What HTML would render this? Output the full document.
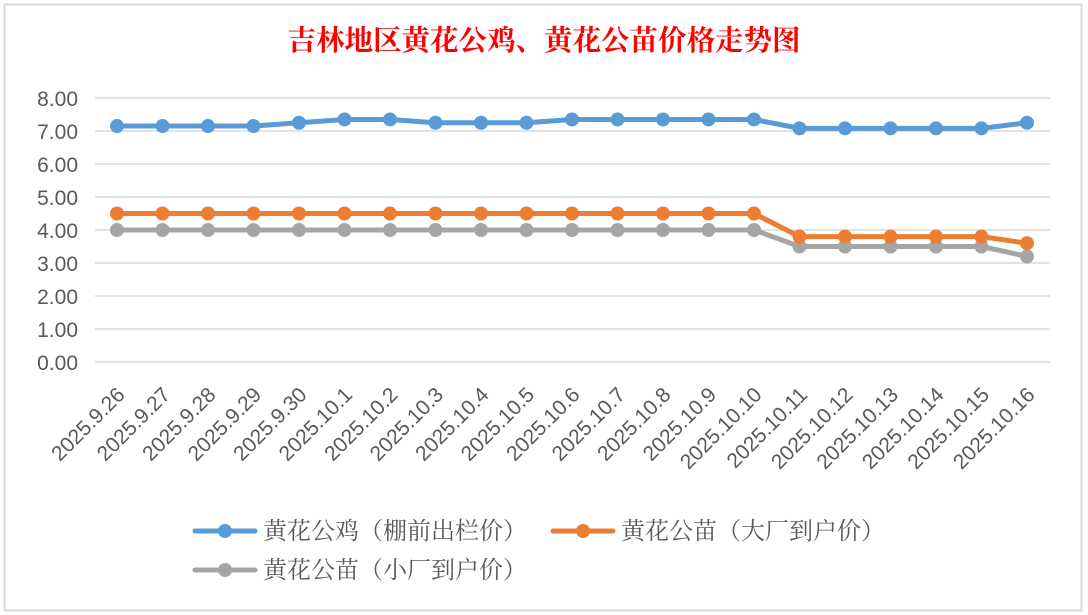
<!DOCTYPE html>
<html><head><meta charset="utf-8"><style>
html,body{margin:0;padding:0;background:#fff;}
svg{display:block;}
</style></head><body>
<svg width="1088" height="615" xmlns="http://www.w3.org/2000/svg">
<rect width="1088" height="615" fill="#fff"/>
<rect x="4.5" y="4.5" width="1077" height="606" fill="#fff" stroke="#d9d9d9" stroke-width="2"/>
<text x="544" y="50" text-anchor="middle" font-family="'Liberation Serif','Noto Serif CJK SC',serif" font-size="28.5" font-weight="bold" fill="#ff0000">吉林地区黄花公鸡、黄花公苗价格走势图</text>
<g stroke="#d9d9d9" stroke-width="1.5">
<line x1="95" x2="1050" y1="98" y2="98"/><line x1="95" x2="1050" y1="131" y2="131"/>
<line x1="95" x2="1050" y1="164" y2="164"/><line x1="95" x2="1050" y1="197" y2="197"/>
<line x1="95" x2="1050" y1="230" y2="230"/><line x1="95" x2="1050" y1="263" y2="263"/>
<line x1="95" x2="1050" y1="296" y2="296"/><line x1="95" x2="1050" y1="329" y2="329"/>
<line x1="95" x2="1050" y1="362" y2="362"/>
</g>
<g font-family="'Liberation Sans',sans-serif" font-size="21" fill="#595959" text-anchor="end">
<text x="78" y="106">8.00</text><text x="78" y="139">7.00</text><text x="78" y="172">6.00</text>
<text x="78" y="205">5.00</text><text x="78" y="238">4.00</text><text x="78" y="271">3.00</text>
<text x="78" y="304">2.00</text><text x="78" y="337">1.00</text><text x="78" y="370">0.00</text>
</g>
<g id="xl" font-family="'Liberation Sans',sans-serif" font-size="21" fill="#595959" text-anchor="end"></g>
<g id="s"></g>
<g font-family="'Liberation Serif','Noto Serif CJK SC',serif" font-size="24" fill="#595959">
<line x1="195" x2="255" y1="531" y2="531" stroke="#5b9bd5" stroke-width="5" stroke-linecap="round"/><circle cx="225" cy="531" r="7" fill="#5b9bd5"/>
<text x="263" y="539">黄花公鸡（棚前出栏价）</text>
<line x1="553" x2="613" y1="531" y2="531" stroke="#ed7d31" stroke-width="5" stroke-linecap="round"/><circle cx="583" cy="531" r="7" fill="#ed7d31"/>
<text x="621" y="539">黄花公苗（大厂到户价）</text>
<line x1="195" x2="255" y1="570" y2="570" stroke="#a5a5a5" stroke-width="5" stroke-linecap="round"/><circle cx="225" cy="570" r="7" fill="#a5a5a5"/>
<text x="263" y="578">黄花公苗（小厂到户价）</text>
</g>
<script>
var ns="http://www.w3.org/2000/svg";
var labels=["2025.9.26","2025.9.27","2025.9.28","2025.9.29","2025.9.30","2025.10.1","2025.10.2","2025.10.3","2025.10.4","2025.10.5","2025.10.6","2025.10.7","2025.10.8","2025.10.9","2025.10.10","2025.10.11","2025.10.12","2025.10.13","2025.10.14","2025.10.15","2025.10.16"];
var d1=[7.15,7.15,7.15,7.15,7.25,7.35,7.35,7.25,7.25,7.25,7.35,7.35,7.35,7.35,7.35,7.08,7.08,7.08,7.08,7.08,7.25];
var d2=[4.5,4.5,4.5,4.5,4.5,4.5,4.5,4.5,4.5,4.5,4.5,4.5,4.5,4.5,4.5,3.8,3.8,3.8,3.8,3.8,3.6];
var d3=[4.0,4.0,4.0,4.0,4.0,4.0,4.0,4.0,4.0,4.0,4.0,4.0,4.0,4.0,4.0,3.5,3.5,3.5,3.5,3.5,3.2];
function X(i){return 117+i*45.5;} function Y(v){return 362-v*33;}
var xl=document.getElementById("xl");
labels.forEach(function(l,i){var t=document.createElementNS(ns,"text");var x=X(i)+9,y=396;
t.setAttribute("x",x);t.setAttribute("y",y);t.setAttribute("transform","rotate(-45 "+x+" "+y+")");t.textContent=l;xl.appendChild(t);});
var s=document.getElementById("s");
[[d3,"#a5a5a5"],[d2,"#ed7d31"],[d1,"#5b9bd5"]].forEach(function(p){
var pts=p[0].map(function(v,i){return X(i)+","+Y(v);}).join(" ");
var pl=document.createElementNS(ns,"polyline");pl.setAttribute("points",pts);pl.setAttribute("fill","none");pl.setAttribute("stroke",p[1]);pl.setAttribute("stroke-width","5");pl.setAttribute("stroke-linejoin","round");s.appendChild(pl);
p[0].forEach(function(v,i){var c=document.createElementNS(ns,"circle");c.setAttribute("cx",X(i));c.setAttribute("cy",Y(v));c.setAttribute("r","7");c.setAttribute("fill",p[1]);s.appendChild(c);});
});
</script>
</svg>
</body></html>
